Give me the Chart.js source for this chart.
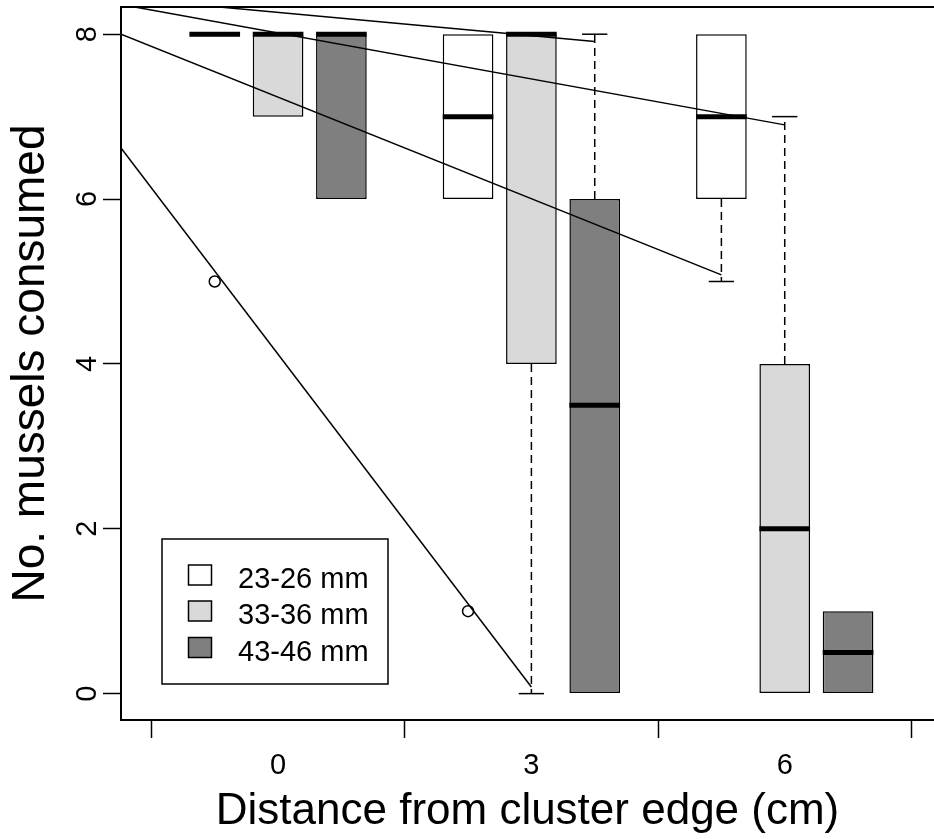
<!DOCTYPE html>
<html>
<head>
<meta charset="utf-8">
<script src="https://cdn.jsdelivr.net/npm/chart.js@4.4.1/dist/chart.umd.min.js"></script>
<style>
  html, body { margin: 0; padding: 0; background: #fff; overflow: hidden; }
  #wrap { width: 934px; height: 839px; }
</style>
</head>
<body>
<div id="wrap"><canvas id="chart"></canvas></div>
<script>
const sizeClasses = ['23-26 mm', '33-36 mm', '43-46 mm'];
const distances = ['0', '3', '6'];
const yTicks = [0, 2, 4, 6, 8];

// box statistics: one row per size class, one value per distance
const boxLow      = [[8, 6, 6], [7, 4, 0], [6, 0, 0]];
const boxHigh     = [[8, 8, 8], [8, 8, 4], [8, 6, 1]];
const medians     = [[8, 7, 7], [8, 8, 2], [8, 3.5, 0.5]];
const whiskerLow  = [[8, 6, 5], [7, 0, 0], [6, 0, 0]];
const whiskerHigh = [[8, 8, 8], [8, 8, 7], [8, 8, 1]];
const outliers    = [[5, 1, null], [null, null, null], [null, null, null]];

// fitted lines: value at the left edge, slot and value where each one stops
const fitStart   = [6.62, 8.0, 8.44, 8.36];
const fitEndSlot = [6, 9, 7, 10];
const fitEnd     = [0.08, 5.08, 7.91, 6.90];

const fills = ['#ffffff', '#d9d9d9', '#7f7f7f'];
const FONT = '"Liberation Sans", Arial, Helvetica, sans-serif';
const X_MIN = -0.48, X_MAX = 12.357;

// four slots per distance, the first one of each group stays empty
const slot = (g, c) => g * 4 + c + 1;

const boxSets = sizeClasses.map((label, c) => ({
    type: 'bar',
    label: label,
    data: distances.map((d, g) => ({ x: slot(g, c), y: [boxLow[c][g], boxHigh[c][g]] })),
    backgroundColor: fills[c],
    borderColor: '#000',
    borderWidth: 1.5,
    borderSkipped: false,
    grouped: false,
    categoryPercentage: 1,
    barPercentage: 0.8,
    order: 3
}));

const outlierPoints = [];
outliers.forEach((row, c) => row.forEach((v, g) => {
    if (v !== null) outlierPoints.push({ x: slot(g, c), y: v });
}));

const outlierSet = {
    type: 'scatter',
    label: 'outliers',
    data: outlierPoints,
    pointRadius: 5.5,
    borderWidth: 1.5,
    borderColor: '#000',
    backgroundColor: 'rgba(0,0,0,0)',
    order: 1
};

const fitSets = fitStart.map((y0, i) => ({
    type: 'line',
    label: 'fit ' + (i + 1),
    data: [{ x: X_MIN, y: y0 }, { x: fitEndSlot[i], y: fitEnd[i] }],
    borderColor: '#000',
    borderWidth: 1.5,
    pointRadius: 0,
    fill: false,
    order: 2
}));

// no extra room for overhanging tick labels, the frame sits at fixed edges
const noPadding = s => {
    s.paddingTop = 0;
    s.paddingBottom = 0;
    s.paddingLeft = 0;
    s.paddingRight = 0;
};

/// ==== medians, whiskers and staples on top of the boxes ==== ///
const boxExtras = {
    id: 'boxExtras',
    afterDatasetsDraw(chart) {
        const ctx = chart.ctx;
        const y = chart.scales.y;
        ctx.save();
        ctx.strokeStyle = '#000';
        sizeClasses.forEach((label, c) => {
            chart.getDatasetMeta(c).data.forEach((bar, g) => {
                const half = bar.width / 2;
                const ends = [[boxHigh[c][g], whiskerHigh[c][g]], [boxLow[c][g], whiskerLow[c][g]]];
                ends.forEach(([edge, tip]) => {
                    if (edge === tip) return;
                    ctx.lineWidth = 1.5;
                    ctx.setLineDash([8, 5]);
                    ctx.beginPath();
                    ctx.moveTo(bar.x, y.getPixelForValue(edge));
                    ctx.lineTo(bar.x, y.getPixelForValue(tip));
                    ctx.stroke();
                    ctx.setLineDash([]);
                    ctx.beginPath();
                    ctx.moveTo(bar.x - half / 2, y.getPixelForValue(tip));
                    ctx.lineTo(bar.x + half / 2, y.getPixelForValue(tip));
                    ctx.stroke();
                });
                ctx.lineWidth = 5;
                ctx.beginPath();
                ctx.moveTo(bar.x - half, y.getPixelForValue(medians[c][g]));
                ctx.lineTo(bar.x + half, y.getPixelForValue(medians[c][g]));
                ctx.stroke();
            });
        });
        ctx.restore();
    }
};

/// ==== top edge of the frame and the boxed legend ==== ///
const frameAndLegend = {
    id: 'frameAndLegend',
    afterDraw(chart) {
        const ctx = chart.ctx;
        const area = chart.chartArea;
        ctx.save();
        ctx.strokeStyle = '#000';
        ctx.lineWidth = 2;
        ctx.beginPath();
        ctx.moveTo(area.left - 1, area.top);
        ctx.lineTo(area.right, area.top);
        ctx.stroke();

        const left = area.left + 41;
        const bottom = area.bottom - 36;
        const w = 226, h = 145;
        const top = bottom - h;
        ctx.lineWidth = 1.5;
        ctx.fillStyle = '#fff';
        ctx.fillRect(left, top, w, h);
        ctx.strokeRect(left, top, w, h);
        ctx.font = '29px ' + FONT;
        ctx.textBaseline = 'middle';
        ctx.textAlign = 'left';
        const rows = [36, 72, 108.5];
        chart.data.datasets.slice(0, 3).forEach((ds, i) => {
            const cy = top + rows[i];
            ctx.fillStyle = ds.backgroundColor;
            ctx.fillRect(left + 26.5, cy - 10, 23, 20);
            ctx.strokeRect(left + 26.5, cy - 10, 23, 20);
            ctx.fillStyle = '#000';
            ctx.fillText(ds.label, left + 76, cy + 5);
        });
        ctx.restore();
    }
};

new Chart(document.getElementById('chart'), {
    type: 'bar',
    data: {
        datasets: [...boxSets, ...fitSets, outlierSet]
    },
    options: {
        responsive: true,
        maintainAspectRatio: false,
        animation: false,
        events: [],
        layout: { autoPadding: false, padding: { top: 7, right: 0, bottom: 0, left: 0 } },
        plugins: {
            legend: { display: false },
            tooltip: { enabled: false }
        },
        scales: {
            x: {
                type: 'linear',
                min: X_MIN,
                max: X_MAX,
                offset: false,
                afterBuildTicks: s => { s.ticks = [0, 2, 4, 6, 8, 10, 12].map(value => ({ value })); },
                afterFit: s => { s.height = 119; noPadding(s); },
                ticks: {
                    autoSkip: false,
                    maxRotation: 0,
                    padding: 11,
                    color: '#000',
                    font: { family: FONT, size: 29 },
                    callback: v => (v % 4 === 2 ? distances[(v - 2) / 4] : '')
                },
                grid: {
                    offset: false,
                    drawOnChartArea: false,
                    tickLength: 18,
                    tickWidth: 1.5,
                    tickColor: ctx => (ctx.tick && ctx.tick.value % 4 === 0 ? '#000' : 'rgba(0,0,0,0)')
                },
                border: { color: '#000', width: 2 },
                title: {
                    display: true,
                    text: 'Distance from cluster edge (cm)',
                    color: '#000',
                    font: { family: FONT, size: 44 },
                    padding: { top: 0, bottom: 1 }
                }
            },
            y: {
                min: -0.32,
                max: 8.33,
                afterBuildTicks: s => { s.ticks = yTicks.map(value => ({ value })); },
                afterFit: s => { s.width = 121; noPadding(s); },
                ticks: {
                    minRotation: 90,
                    maxRotation: 90,
                    crossAlign: 'center',
                    padding: 7,
                    color: '#000',
                    font: { family: FONT, size: 29 }
                },
                grid: {
                    drawOnChartArea: false,
                    tickLength: 18,
                    tickWidth: 1.5,
                    tickColor: '#000'
                },
                border: { color: '#000', width: 2 },
                title: {
                    display: true,
                    text: 'No. mussels consumed',
                    color: '#000',
                    font: { family: FONT, size: 46 },
                    padding: { top: 4, bottom: 0 }
                }
            }
        }
    },
    plugins: [boxExtras, frameAndLegend]
});
</script>
</body>
</html>
